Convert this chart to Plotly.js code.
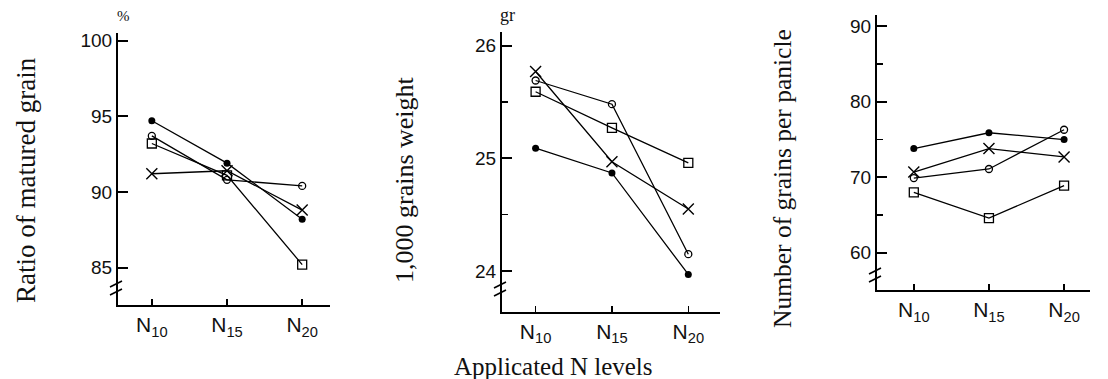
<!DOCTYPE html>
<html>
<head>
<meta charset="utf-8">
<script src="https://cdn.plot.ly/plotly-3.0.1.min.js"></script>
<style>html,body{margin:0;padding:0;background:#fff;}#chart{width:1108px;height:379px;}</style>
</head>
<body>
<div id="chart"></div>
<script>
// ---- data ----
var levels = [0, 1, 2];
var levelLabels = ["N<sub>10</sub>", "N<sub>15</sub>", "N<sub>20</sub>"];

// Ratio of matured grain (%)
var maturedFilled = [94.7, 91.9, 88.2];
var maturedOpen   = [93.7, 90.8, 90.4];
var maturedSquare = [93.2, 91.1, 85.2];
var maturedCross  = [91.2, 91.4, 88.8];

// 1,000 grains weight (gr)
var weightFilled = [25.09, 24.87, 23.97];
var weightOpen   = [25.69, 25.48, 24.15];
var weightSquare = [25.59, 25.27, 24.96];
var weightCross  = [25.77, 24.97, 24.55];

// Number of grains per panicle
var grainsFilled = [73.8, 75.9, 75.0];
var grainsOpen   = [69.9, 71.1, 76.3];
var grainsSquare = [68.0, 64.6, 68.9];
var grainsCross  = [70.7, 73.8, 72.7];

var yTicks1 = [85, 90, 95, 100];
var yTicks2 = [24, 25, 26];
var yTicks3 = [60, 70, 80, 90];

var titles = ['Ratio of matured grain', '1,000 grains weight', 'Number of grains per panicle'];
var xTitle = 'Applicated N levels';

// ---- styling ----
var W = 1108, H = 379;
function px(x){ return x / W; }
function py(y){ return 1 - y / H; }

var symbols = {
  filled: {symbol: 'circle', size: 7, color: '#000'},
  open:   {symbol: 'circle-open', size: 7, color: '#000', line: {width: 1.3, color: '#000'}},
  square: {symbol: 'square-open', size: 9, color: '#000', line: {width: 1.3, color: '#000'}},
  cross:  {symbol: 'x-thin-open', size: 11, color: '#000', line: {width: 1.4, color: '#000'}}
};

function tr(y, key, xa, ya, name){
  return {
    x: levels, y: y, xaxis: xa, yaxis: ya, name: name,
    type: 'scatter', mode: 'lines+markers',
    line: {color: '#000', width: 1.3},
    marker: symbols[key],
    showlegend: false, hoverinfo: 'skip', cliponaxis: false
  };
}

var data = [
  tr(maturedFilled, 'filled', 'x', 'y', '●'),
  tr(maturedOpen, 'open', 'x', 'y', '○'),
  tr(maturedSquare, 'square', 'x', 'y', '□'),
  tr(maturedCross, 'cross', 'x', 'y', '×'),
  tr(weightFilled, 'filled', 'x2', 'y2', '●'),
  tr(weightOpen, 'open', 'x2', 'y2', '○'),
  tr(weightSquare, 'square', 'x2', 'y2', '□'),
  tr(weightCross, 'cross', 'x2', 'y2', '×'),
  tr(grainsFilled, 'filled', 'x3', 'y3', '●'),
  tr(grainsOpen, 'open', 'x3', 'y3', '○'),
  tr(grainsSquare, 'square', 'x3', 'y3', '□'),
  tr(grainsCross, 'cross', 'x3', 'y3', '×')
];

var tickFont = {family: '"Liberation Sans Narrow", "Liberation Sans", Arial, sans-serif', size: 19, color: '#111'};
var xFont = {family: '"Liberation Sans Narrow", "Liberation Sans", Arial, sans-serif', size: 21, color: '#111'};
var serif = '"Liberation Serif", "DejaVu Serif", "Times New Roman", serif';

function xax(domain, range, anchor){
  return {
    domain: domain, range: range, anchor: anchor,
    tickmode: 'array', tickvals: levels, ticktext: levelLabels,
    ticks: 'inside', ticklen: 6, tickwidth: 1.5, tickcolor: '#000',
    showline: true, linecolor: '#000', linewidth: 2,
    showgrid: false, zeroline: false, tickfont: xFont, fixedrange: true
  };
}
function yax(domain, range, anchor, tickvals, minor){
  var a = {
    domain: domain, range: range, anchor: anchor,
    tickmode: 'array', tickvals: tickvals,
    ticks: 'inside', ticklen: 10, tickwidth: 2, tickcolor: '#000',
    showline: true, linecolor: '#000', linewidth: 2,
    showgrid: false, zeroline: false, tickfont: tickFont, fixedrange: true
  };
  if (minor) a.minor = {tickvals: minor, ticks: 'inside', ticklen: 6, tickwidth: 1.5, tickcolor: '#000', showgrid: false};
  return a;
}

function brk(x, y){
  return [
    {type: 'line', xref: 'paper', yref: 'paper', x0: px(x - 8), y0: py(y + 4), x1: px(x + 4), y1: py(y - 2), line: {color: '#000', width: 1.6}},
    {type: 'line', xref: 'paper', yref: 'paper', x0: px(x - 8), y0: py(y + 12), x1: px(x + 4), y1: py(y + 6), line: {color: '#000', width: 1.6}}
  ];
}

function ytitle(text, x, y, size){
  return {text: text, xref: 'paper', yref: 'paper', x: px(x), y: py(y), xanchor: 'center', yanchor: 'middle',
          textangle: -90, showarrow: false, font: {family: serif, size: size, color: '#111'}};
}

var layout = {
  width: W, height: H,
  margin: {l: 0, r: 0, t: 0, b: 0},
  paper_bgcolor: '#fff', plot_bgcolor: 'rgba(0,0,0,0)',
  showlegend: false,
  xaxis: xax([px(118), px(330)], [-0.45, 2.37], 'y'),
  yaxis: yax([py(305), py(33)], [82.53, 100.5], 'x', yTicks1, null),
  xaxis2: xax([px(502), px(720)], [-0.44, 2.415], 'y2'),
  yaxis2: yax([py(311.7), py(32)], [23.64, 26.12], 'x2', yTicks2, [24.5, 25.5]),
  xaxis3: xax([px(877), px(1090)], [-0.49, 2.345], 'y3'),
  yaxis3: yax([py(290), py(15)], [55.07, 91.5], 'x3', yTicks3, [65, 75, 85]),
  shapes: [].concat(brk(118, 283), brk(502, 284), brk(877, 270)),
  annotations: [
    ytitle(titles[0], 26, 180, 27),
    ytitle(titles[1], 404, 180, 26),
    ytitle(titles[2], 782, 179, 25.5),
    {text: '%', xref: 'paper', yref: 'paper', x: px(123), y: py(16), xanchor: 'center', yanchor: 'middle', showarrow: false, font: {family: serif, size: 15, color: '#111'}},
    {text: 'gr', xref: 'paper', yref: 'paper', x: px(507), y: py(15), xanchor: 'center', yanchor: 'middle', showarrow: false, font: {family: serif, size: 18, color: '#111'}},
    {text: xTitle, xref: 'paper', yref: 'paper', x: px(553), y: py(366), xanchor: 'center', yanchor: 'middle', showarrow: false, font: {family: serif, size: 25, color: '#111'}}
  ]
};

Plotly.newPlot('chart', data, layout, {displayModeBar: false, staticPlot: true});
</script>
</body>
</html>
